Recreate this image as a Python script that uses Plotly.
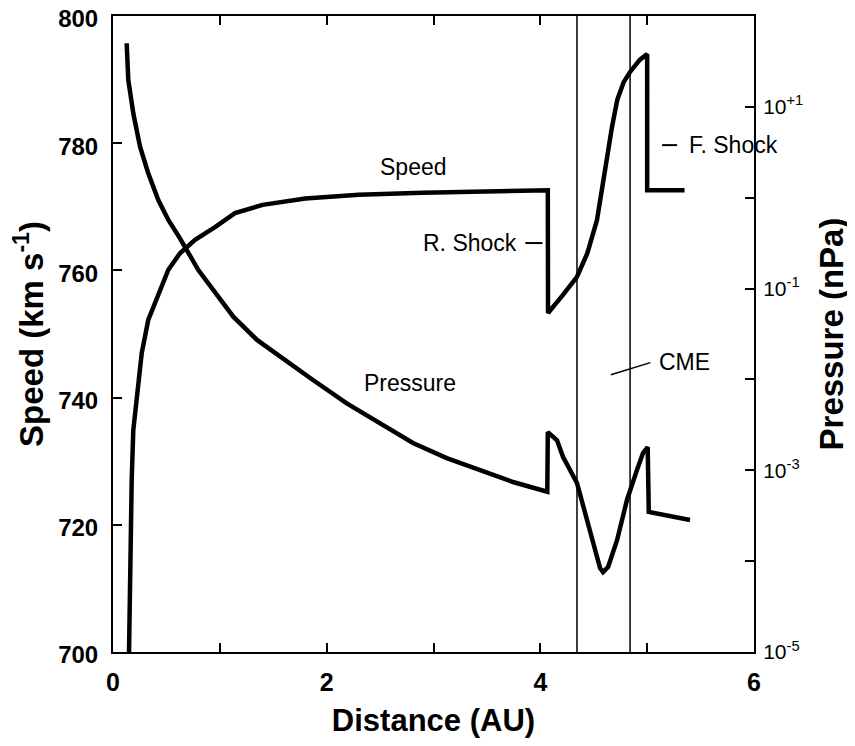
import plotly.graph_objects as go

# ---- data ----
distance_speed = [0.150, 0.159, 0.175, 0.190, 0.222, 0.269, 0.330, 0.424, 0.518, 0.627,
                  0.768, 0.955, 1.142, 1.40, 1.80, 2.30, 2.90, 4.070,
                  4.072, 4.21, 4.343, 4.44, 4.53, 4.58, 4.62, 4.67,
                  4.72, 4.78, 4.84, 4.93, 5.0, 5.0, 5.35]
speed_kms = [700.0, 716.5, 727.0, 734.9, 740.1, 747.0, 752.2, 756.4, 760.1, 762.7,
             764.8, 766.8, 769.0, 770.3, 771.3, 771.9, 772.2, 772.6,
             753.3, 756.1, 759.0, 762.7, 767.9, 773.1, 777.8, 782.5,
             786.8, 789.6, 791.2, 793.1, 794.0, 772.6, 772.6]

distance_pressure = [0.128, 0.143, 0.190, 0.253, 0.330, 0.424, 0.518, 0.627, 0.799, 0.955,
                     1.126, 1.348, 1.563, 1.872, 2.188, 2.499, 2.808, 3.124, 3.435, 3.744,
                     4.065, 4.070, 4.156, 4.212, 4.343, 4.437, 4.512, 4.559, 4.587, 4.634,
                     4.718, 4.811, 4.905, 4.961, 5.005, 5.015, 5.401]
pressure_npa = [50.1, 19.8, 8.49, 3.65, 1.86, 0.944, 0.569, 0.357, 0.160, 0.0893,
                0.0490, 0.0272, 0.0178, 0.00986, 0.00546, 0.00332, 0.00200, 0.00136,
                0.00101, 0.000743, 0.000581, 0.00263, 0.00214, 0.00141, 0.000724,
                0.000282, 0.000123, 0.0000841, 0.0000759, 0.0000861, 0.000170,
                0.000471, 0.00101, 0.00155, 0.00180, 0.000348, 0.000284]

cme_boundaries = [4.343, 4.840]

x_tickvals = [0, 1, 2, 3, 4, 5, 6]
x_ticktext = ["0", "", "2", "", "4", "", "6"]
speed_tickvals = [700, 720, 740, 760, 780, 800]
pressure_tickvals = [1e-5, 1e-4, 1e-3, 1e-2, 1e-1, 1e0, 1e1]
pressure_ticktext = ["10<sup>-5</sup>", "", "10<sup>-3</sup>", "", "10<sup>-1</sup>", "",
                     "10<sup>+1</sup>"]

FONT = "Liberation Sans, Arial, Helvetica, sans-serif"

fig = go.Figure()
fig.add_trace(go.Scatter(x=distance_speed, y=speed_kms, mode="lines",
                         line=dict(color="black", width=4.5), name="Speed",
                         yaxis="y", showlegend=False))
fig.add_trace(go.Scatter(x=distance_pressure, y=pressure_npa, mode="lines",
                         line=dict(color="black", width=4.5), name="Pressure",
                         yaxis="y2", showlegend=False))

shapes = []
for xb in cme_boundaries:
    shapes.append(dict(type="line", xref="x", yref="paper", x0=xb, x1=xb, y0=0, y1=1,
                       line=dict(color="black", width=1.5)))
# pointer dashes
shapes.append(dict(type="line", xref="x", yref="y", x0=3.86, x1=4.02, y0=764.3, y1=764.3,
                   line=dict(color="black", width=2)))
shapes.append(dict(type="line", xref="x", yref="y", x0=5.14, x1=5.28, y0=779.7, y1=779.7,
                   line=dict(color="black", width=2)))
shapes.append(dict(type="line", xref="x", yref="y", x0=4.66, x1=5.03, y0=743.6, y1=745.5,
                   line=dict(color="black", width=1.5)))

ann_font = dict(family=FONT, size=23, color="black")
annotations = [
    dict(x=2.81, y=776.3, xref="x", yref="y", text="Speed", showarrow=False,
         font=ann_font, xanchor="center", yanchor="middle"),
    dict(x=2.78, y=742.3, xref="x", yref="y", text="Pressure", showarrow=False,
         font=ann_font, xanchor="center", yanchor="middle"),
    dict(x=3.80, y=764.3, xref="x", yref="y", text="R. Shock", showarrow=False,
         font=ann_font, xanchor="right", yanchor="middle"),
    dict(x=5.37, y=779.7, xref="x", yref="y", text="F. Shock", showarrow=False,
         font=ann_font, xanchor="left", yanchor="middle"),
    dict(x=5.09, y=745.6, xref="x", yref="y", text="CME", showarrow=False,
         font=ann_font, xanchor="left", yanchor="middle"),
]

# the page body adds an 8px offset, so the figure is 8px smaller than the window
fig.update_layout(
    width=847, height=738,
    margin=dict(l=105, r=101, t=8, b=94, autoexpand=False),
    paper_bgcolor="white", plot_bgcolor="white",
    showlegend=False,
    shapes=shapes, annotations=annotations,
    xaxis=dict(range=[0, 6], tickvals=x_tickvals, ticktext=x_ticktext,
               ticks="inside", ticklen=9, tickwidth=1.5, tickcolor="black",
               showline=True, linecolor="black", linewidth=2, mirror="ticks",
               showgrid=False, zeroline=False, automargin=False,
               ticklabelstandoff=7,
               tickfont=dict(family=FONT, size=25, color="black", weight="bold"),
               title=dict(text="<b>Distance (AU)</b>", standoff=14,
                          font=dict(family=FONT, size=31, color="black"))),
    yaxis=dict(range=[700, 800], tickvals=speed_tickvals,
               ticks="inside", ticklen=9, tickwidth=1.5, tickcolor="black",
               showline=True, linecolor="black", linewidth=2,
               showgrid=False, zeroline=False, automargin=False,
               ticklabelstandoff=8, ticklabeloverflow="allow", ticklabelshift=3,
               tickfont=dict(family=FONT, size=24, color="black", weight="bold"),
               title=dict(text="<b>Speed (km s<sup>-1</sup>)</b>", standoff=8,
                          font=dict(family=FONT, size=33, color="black"))),
    yaxis2=dict(type="log", range=[-5, 2], overlaying="y", side="right",
                tickvals=pressure_tickvals, ticktext=pressure_ticktext,
                ticks="inside", ticklen=9, tickwidth=1.5, tickcolor="black",
                showline=True, linecolor="black", linewidth=2,
                showgrid=False, zeroline=False, automargin=False,
                ticklabelstandoff=3, ticklabeloverflow="allow",
                tickfont=dict(family=FONT, size=21, color="black"),
                title=dict(text="<b>Pressure (nPa)</b>", standoff=18,
                           font=dict(family=FONT, size=33, color="black"))),
)

fig.write_html("out.html")
